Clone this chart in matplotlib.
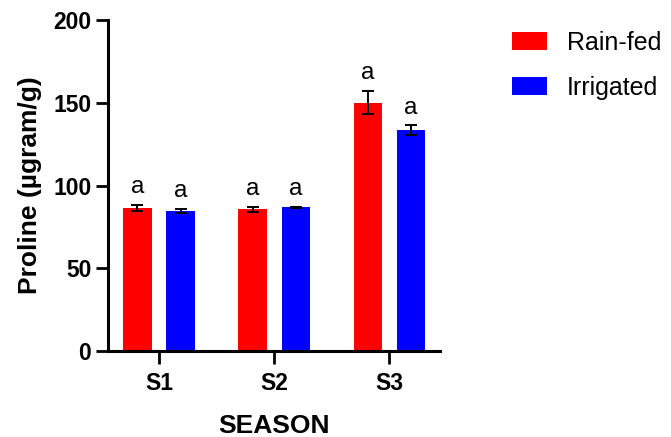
import matplotlib
matplotlib.use("Agg")
import matplotlib.pyplot as plt
import numpy as np

plt.rcParams['font.family'] = ['Liberation Sans', 'DejaVu Sans']

seasons = ["S1", "S2", "S3"]
rainfed = [86.4, 85.5, 150.0]
rainfed_err = [2.0, 1.4, 7.0]
irrigated = [84.6, 86.8, 133.3]
irrigated_err = [1.3, 0.5, 3.0]
rainfed_letters = ["a", "a", "a"]
irrigated_letters = ["a", "a", "a"]

fig = plt.figure(figsize=(6.71, 4.37), dpi=100)
ax = fig.add_axes([0.161, 0.197, 0.495, 0.757])

x = np.arange(len(seasons))
w = 0.245
off = 0.187
err_kw = dict(ecolor="black", elinewidth=1.4, capsize=4.6, capthick=1.4)
ax.bar(x - off, rainfed, w, yerr=rainfed_err, color="#ff0000", label="Rain-fed",
       error_kw=err_kw, zorder=2)
ax.bar(x + off, irrigated, w, yerr=irrigated_err, color="#0000ff", label="Irrigated",
       error_kw=err_kw, zorder=2)

for xi, v, e, t in zip(x - off, rainfed, rainfed_err, rainfed_letters):
    ax.annotate(t, (xi, v + e), xytext=(0, 5), textcoords="offset points",
                ha="center", va="bottom", fontsize=17.5)
for xi, v, e, t in zip(x + off, irrigated, irrigated_err, irrigated_letters):
    ax.annotate(t, (xi, v + e), xytext=(0, 5), textcoords="offset points",
                ha="center", va="bottom", fontsize=17.5)

ax.set_xlim(-0.443, 2.443)
ax.set_ylim(0, 200)
ax.set_yticks([0, 50, 100, 150, 200])
ax.set_xticks(x)
ax.set_xticklabels(seasons)

for s in ["top", "right"]:
    ax.spines[s].set_visible(False)
for s in ["left", "bottom"]:
    ax.spines[s].set_linewidth(2.2)
ax.tick_params(axis="both", width=2.0, length=9, labelsize=16.5, pad=3)
ax.tick_params(axis="x", pad=6)
for lab in ax.get_xticklabels() + ax.get_yticklabels():
    lab.set_fontweight("bold")

ax.set_ylabel("Proline (µgram/g)", fontsize=19, fontweight="bold", labelpad=8)
ax.set_xlabel("SEASON", fontsize=19, fontweight="bold", labelpad=14)

fig.legend(loc="upper left", bbox_to_anchor=(0.763, 0.93), frameon=False,
           fontsize=18, handlelength=1.4, handleheight=0.72, handletextpad=0.8,
           labelspacing=0.85, borderaxespad=0, borderpad=0)

fig.savefig("out.png", dpi=100)
